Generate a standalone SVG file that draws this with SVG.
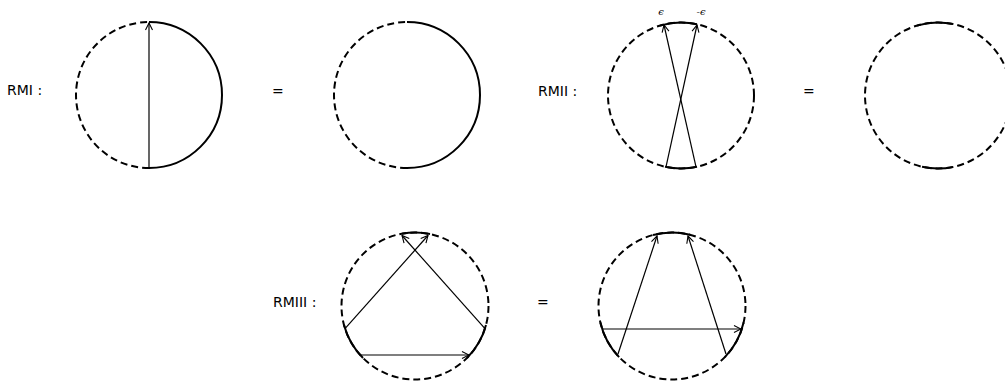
<svg xmlns="http://www.w3.org/2000/svg" width="1005" height="383" viewBox="0 0 1005 383">
<style>
.d{fill:none;stroke:#000;stroke-width:2;stroke-dasharray:7,4}
.s{fill:none;stroke:#000;stroke-width:2}
.a{fill:none;stroke:#000;stroke-width:1.2;marker-end:url(#ah)}
.t{font-family:"DejaVu Sans",sans-serif;font-size:14px;fill:#000}
.e{font-family:"DejaVu Serif",serif;font-style:italic;font-size:10px;fill:#000;text-anchor:middle}
</style>
<defs>
<marker id="ah" markerUnits="userSpaceOnUse" viewBox="-9 -5 10 10" refX="0" refY="0" markerWidth="10" markerHeight="10" orient="auto">
<path d="M-7,-3.5 L0,0 L-7,3.5" fill="none" stroke="#000" stroke-width="1.1"/>
</marker>
</defs>
<rect width="1005" height="383" fill="#fff"/>
<g id="labels">
<text class="t" x="7" y="95">RMI :</text>
<text class="t" x="272" y="96">=</text>
<text class="t" x="538" y="96">RMII :</text>
<text class="t" x="803" y="96">=</text>
<text class="t" x="273" y="307">RMIII :</text>
<text class="t" x="537" y="307">=</text>
<text class="e" x="661" y="15">ϵ</text>
<text class="e" x="701" y="15">-ϵ</text>
</g>
<g id="rmi-left">
<path class="d" d="M149,168 A73,73 0 0 1 149,22"/>
<path class="s" d="M149,22 A73,73 0 0 1 149,168"/>
</g>
<g id="rmi-right">
<path class="d" d="M407,168 A73,73 0 0 1 407,22"/>
<path class="s" d="M407,22 A73,73 0 0 1 407,168"/>
</g>
<g id="rmii-left">
<circle class="d" cx="681" cy="95.5" r="73"/>
<path class="s" d="M660,25.6 A73,73 0 0 1 697,24.3"/>
<path class="s" d="M697,166.7 A73,73 0 0 1 665,166.7"/>
</g>
<g id="rmii-right">
<circle class="d" cx="938" cy="95.5" r="73"/>
<path class="s" d="M917,25.6 A73,73 0 0 1 953,24.1"/>
<path class="s" d="M953,166.9 A73,73 0 0 1 922,166.7"/>
</g>
<g id="rmiii-left">
<circle class="d" cx="415" cy="306" r="73.5"/>
<path class="s" d="M402,233.7 A73.5,73.5 0 0 1 430,234"/>
<path class="s" d="M363,358 A73.5,73.5 0 0 1 344,325"/>
<path class="s" d="M486,325 A73.5,73.5 0 0 1 467,358"/>
</g>
<g id="rmiii-right">
<circle class="d" cx="672" cy="306" r="73.5"/>
<path class="s" d="M653,235 A73.5,73.5 0 0 1 690,234.7"/>
<path class="s" d="M619.1,357.1 A73.5,73.5 0 0 1 600.4,322.5"/>
<path class="s" d="M743.6,322.5 A73.5,73.5 0 0 1 724.9,357.1"/>
</g>
<g id="connectors">
<line class="a" x1="149" y1="168" x2="149" y2="23"/>
<line class="a" x1="666" y1="166.9" x2="697" y2="25"/>
<line class="a" x1="696" y1="166.9" x2="664" y2="25"/>
<line class="a" x1="345" y1="328.7" x2="428" y2="235.5"/>
<line class="a" x1="485" y1="328.7" x2="402" y2="235.5"/>
<line class="a" x1="361" y1="355" x2="469" y2="355"/>
<line class="a" x1="618" y1="354" x2="657" y2="236"/>
<line class="a" x1="726" y1="354" x2="688" y2="236"/>
<line class="a" x1="603" y1="329" x2="741" y2="329"/>
</g>
</svg>
